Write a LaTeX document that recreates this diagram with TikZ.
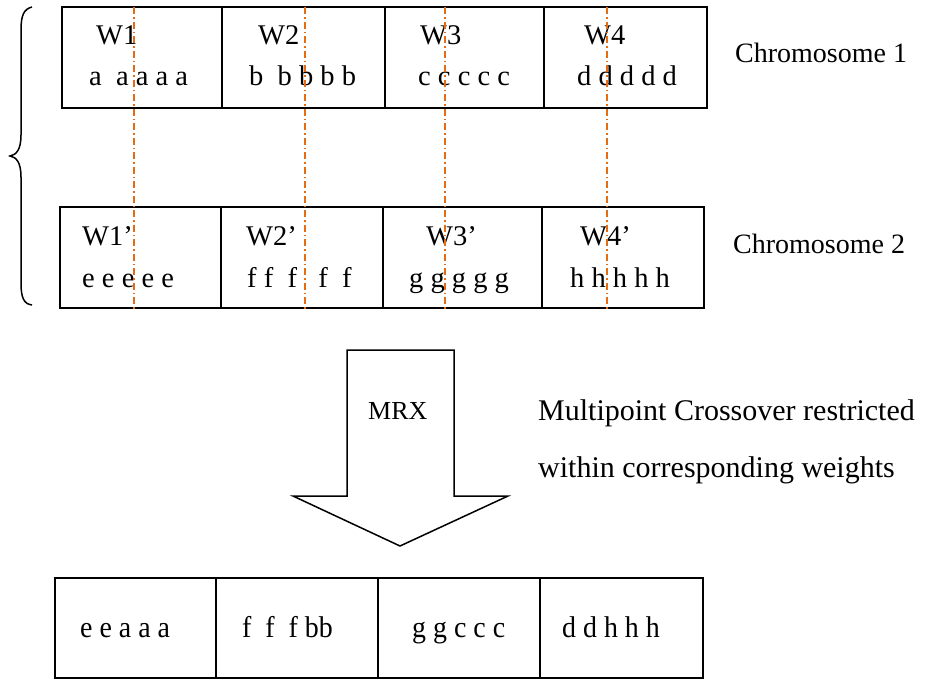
\documentclass[tikz,border=0pt]{standalone}
\usepackage{fontspec}
\setmainfont{Liberation Serif}
\definecolor{cutline}{RGB}{228,108,18}
\begin{document}
\begin{tikzpicture}[x=1pt,y=-1pt,
  cell/.style={draw=black,line width=1.5pt,rectangle,inner sep=0pt,minimum height=101pt},
  gene/.style={anchor=base west,inner sep=0pt,font=\fontsize{28.5pt}{32pt}\selectfont},
  child/.style={anchor=base west,inner sep=0pt,xscale=0.93,font=\fontsize{30pt}{34pt}\selectfont},
  side/.style={anchor=base west,inner sep=0pt,font=\fontsize{28pt}{32pt}\selectfont},
  note/.style={anchor=base west,inner sep=0pt,font=\fontsize{30pt}{34pt}\selectfont},
  cut/.style={draw=cutline,line width=1.4pt,dash pattern=on 7pt off 3pt on 1.5pt off 3pt}]
\useasboundingbox (0,0) rectangle (927,681);

% chromosome 1
\node[cell,minimum width=160pt] (p1a) at (142,57.5) {};
\node[cell,minimum width=163pt] (p1b) at (303.5,57.5) {};
\node[cell,minimum width=159pt] (p1c) at (464.5,57.5) {};
\node[cell,minimum width=163pt] (p1d) at (625.5,57.5) {};
\node[gene] (w1) at (96,44) {W1};
\node[gene] (g1) at (89,85) {a\ \ a a a a};
\node[gene] (w2) at (258,44) {W2};
\node[gene] (g2) at (249,85) {b\ \ b b b b};
\node[gene] (w3) at (420,44) {W3};
\node[gene] (g3) at (418,85) {c c c c c};
\node[gene] (w4) at (584,44) {W4};
\node[gene] (g4) at (577,85) {d d d d d};
\node[side] (chr1) at (735,62) {Chromosome 1};

% chromosome 2
\node[cell,minimum width=161pt] (p2a) at (140.5,257.5) {};
\node[cell,minimum width=162pt] (p2b) at (302,257.5) {};
\node[cell,minimum width=159pt] (p2c) at (462.5,257.5) {};
\node[cell,minimum width=162pt] (p2d) at (623,257.5) {};
\node[gene] (v1) at (82,245) {W1'};
\node[gene] (h1) at (82,287) {e e e e e};
\node[gene] (v2) at (246,245) {W2'};
\node[gene] (h2) at (247,287) {f f\ \ f\ \ \ f\ \ f};
\node[gene] (v3) at (426,245) {W3'};
\node[gene] (h3) at (409,287) {g g g g g};
\node[gene] (v4) at (580,245) {W4'};
\node[gene] (h4) at (570,287) {h h h h h};
\node[side] (chr2) at (733,253) {Chromosome 2};

% crossover points
\foreach \i/\x in {1/134,2/305,3/445,4/607}{
  \coordinate (cut\i top) at (\x,7);
  \coordinate (cut\i bot) at (\x,310);
  \draw[cut] (cut\i top) -- (cut\i bot);
}

% brace grouping both parents
\draw[line width=1.5pt] (32,7) .. controls (24,9) and (21,15) .. (21,30) -- (21,135)
  .. controls (21,150) and (16,155) .. (10,156)
  .. controls (16,157) and (21,162) .. (21,177) -- (21,283)
  .. controls (21,298) and (24,304) .. (32,305);

% MRX block arrow
\draw[line width=1.5pt,line join=miter] (347,350) -- (454,350) -- (454,496) -- (508,496)
  -- (400,546) -- (293,496) -- (347,496) -- cycle;
\node[gene,font=\fontsize{26pt}{30pt}\selectfont] (mrx) at (368,419) {MRX};
\node[note] (desc1) at (538,420) {Multipoint Crossover restricted};
\node[note] (desc2) at (538,477) {within corresponding weights};

% offspring
\node[cell,minimum width=161pt,minimum height=100pt] (o1) at (135.5,628) {};
\node[cell,minimum width=162pt,minimum height=100pt] (o2) at (297,628) {};
\node[cell,minimum width=162pt,minimum height=100pt] (o3) at (459,628) {};
\node[cell,minimum width=163pt,minimum height=100pt] (o4) at (621.5,628) {};
\node[child] (k1) at (80,637) {e e a a a};
\node[child] (k2) at (242,637) {f\ \ f\ \ f bb};
\node[child] (k3) at (412,637) {g g c c c};
\node[child] (k4) at (562,637) {d d h h h};
\end{tikzpicture}
\end{document}
